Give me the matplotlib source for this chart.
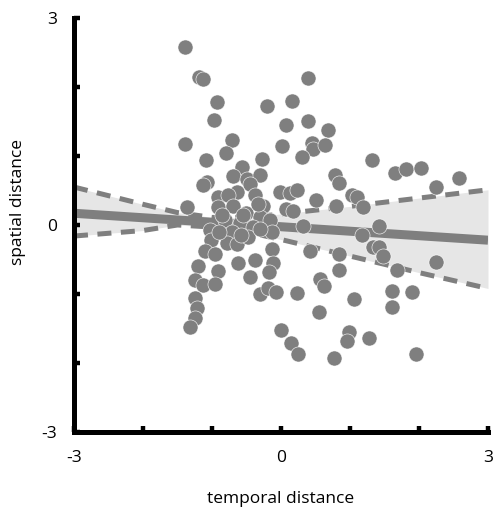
import matplotlib
matplotlib.use("Agg")
import matplotlib.pyplot as plt
import numpy as np

# scatter values (temporal vs spatial distance)
temporal = [-1.39, -1.19, -1.13, -0.93, -0.97, -0.20, 0.39, 0.16, 0.07, 0.39,
            0.68, -1.39, -0.71, -0.80, 0.01, 0.45, 0.46, 0.64, 0.30, -1.09,
            -0.28, -0.57, 1.32, -0.70, -0.49, -0.30, -0.45, -1.07, -1.13, 1.65,
            1.81, 2.03, 2.58, 2.25, 0.78, 0.84, -0.64, -0.91, -0.77, -0.38,
            -0.01, 0.13, 0.23, 0.51, 1.03, 1.10, -1.36, -0.91, -0.70, -0.51,
            -0.26, -0.30, 0.07, 0.17, 0.80, 1.19, 0.32, 1.42, -0.81, -0.59,
            -0.41, -0.16, -1.03, -0.71, -1.01, -0.78, -0.64, -0.48, -1.10, -0.96,
            -1.20, -0.91, -0.62, -0.38, -0.13, -0.12, -0.17, -1.25, -1.13, -0.96,
            -0.45, -0.30, -0.19, -0.07, 0.23, -1.25, -1.22, -1.25, -1.32, 0.00,
            0.42, 0.84, 1.17, 1.33, 1.42, 1.48, 2.25, 0.84, 1.68, 0.57,
            0.62, 1.06, 1.61, 1.90, 1.61, 0.55, 0.14, 0.25, 0.99, 0.96,
            1.28, 0.77, 1.96, -0.13, -0.55, -0.86, -0.30, -0.58, -0.90, -0.33]
spatial = [2.58, 2.14, 2.12, 1.78, 1.52, 1.72, 2.13, 1.80, 1.45, 1.51,
           1.38, 1.17, 1.23, 1.04, 1.14, 1.19, 1.10, 1.16, 0.99, 0.94,
           0.96, 0.84, 0.94, 0.71, 0.67, 0.72, 0.59, 0.62, 0.58, 0.75,
           0.81, 0.83, 0.68, 0.55, 0.72, 0.61, 0.48, 0.41, 0.43, 0.43,
           0.48, 0.46, 0.51, 0.36, 0.43, 0.41, 0.26, 0.26, 0.28, 0.17,
           0.28, 0.12, 0.23, 0.20, 0.28, 0.26, -0.01, -0.01, 0.07, 0.03,
           -0.03, 0.07, -0.07, -0.10, -0.22, -0.26, -0.28, -0.17, -0.38, -0.42,
           -0.59, -0.67, -0.55, -0.51, -0.35, -0.55, -0.68, -0.80, -0.87, -0.86,
           -0.75, -1.00, -0.91, -0.97, -0.99, -1.06, -1.20, -1.35, -1.48, -1.52,
           -0.38, -0.42, -0.14, -0.32, -0.32, -0.45, -0.54, -0.65, -0.65, -0.78,
           -0.88, -1.07, -0.96, -0.97, -1.19, -1.26, -1.71, -1.87, -1.55, -1.68,
           -1.64, -1.93, -1.87, -0.10, 0.14, 0.14, -0.06, -0.14, -0.10, 0.30]

# regression line and its confidence band
fit_x = [-3, 3]
fit_y = [0.17, -0.22]
band_x = [-3, -2, -1.5, -1, -0.5, 0, 1, 2, 3]
band_upper = [0.55, 0.30, 0.18, 0.11, 0.11, 0.16, 0.27, 0.39, 0.51]
band_lower = [-0.16, -0.08, 0.00, -0.03, -0.10, -0.21, -0.45, -0.69, -0.92]

ticks = [-3, -2, -1, 0, 1, 2, 3]
tick_labels = ["-3", "", "", "0", "", "", "3"]

plt.rcParams['font.family'] = ['Open Sans', 'DejaVu Sans']
grey = '#7f7f7f'

fig = plt.figure(figsize=(4.94, 5.13), dpi=100)
ax = fig.add_axes([74 / 494, 81 / 513, 414 / 494, 414 / 513])

ax.fill_between(band_x, band_lower, band_upper, color='#e6e6e6', lw=0, zorder=1)
ax.plot(band_x, band_upper, color=grey, lw=3.6, ls=(0, (2.8, 1.9)), zorder=2)
ax.plot(band_x, band_lower, color=grey, lw=3.6, ls=(0, (2.8, 1.9)), zorder=2)
ax.plot(fit_x, fit_y, color=grey, lw=6.5, solid_capstyle='butt', zorder=2)
ax.scatter(temporal, spatial, s=118, color=grey, edgecolors='white',
           linewidths=0.4, zorder=3)

ax.set_xlim(-3, 3)
ax.set_ylim(-3, 3)
ax.set_xticks(ticks)
ax.set_xticklabels(tick_labels)
ax.set_yticks(ticks)
ax.set_yticklabels(tick_labels)

for side in ['top', 'right']:
    ax.spines[side].set_visible(False)
for side in ['left', 'bottom']:
    ax.spines[side].set_linewidth(3.6)
    ax.spines[side].set_capstyle('projecting')

ax.tick_params(direction='in', length=4.5, width=3.2, labelsize=12.5, color='black')
ax.tick_params(axis='x', pad=13)
ax.tick_params(axis='y', pad=12)

ax.set_xlabel('temporal distance', fontsize=12.5, va='center')
ax.xaxis.set_label_coords(0.5, -0.162)
ax.set_ylabel('spatial distance', fontsize=12.5, va='center')
ax.yaxis.set_label_coords(-0.136, 0.556)

fig.savefig('out.png', dpi=100)
